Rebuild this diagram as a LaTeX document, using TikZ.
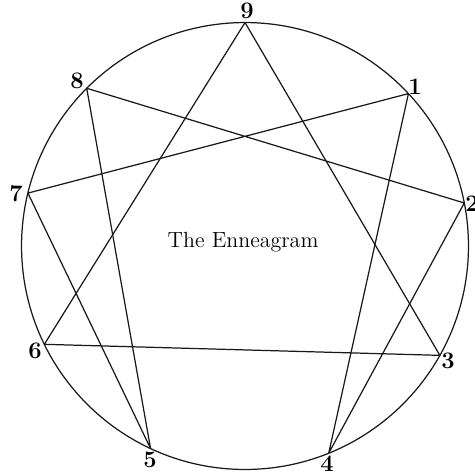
\documentclass[tikz,border=0pt]{standalone}
\usetikzlibrary{calc}
\begin{document}
\begin{tikzpicture}[x=0.02cm,y=-0.02cm,
  ln/.style={draw=black!90, line width=0.7pt, line join=round},
  lbl/.style={inner sep=0pt, font=\bfseries\fontsize{13.5}{15}\selectfont},
  title/.style={inner sep=0pt, font=\fontsize{12.5}{14}\selectfont}]
\useasboundingbox (0,0) rectangle (475,474);
\coordinate (c) at (245,246);
\draw[ln] (c) circle[radius=4.47cm];
\foreach \n/\a in {9/90, 1/43, 2/11.1, 3/-29.3, 4/-68, 5/-115, 6/206.1, 7/166.3, 8/135.1}{
  \coordinate (p\n) at ($(c)+(\a:4.47cm)$);
}
% triangle
\draw[ln] (p9) -- (p3) -- (p6) -- cycle;
% hexad
\draw[ln] (p1) -- (p4) -- (p2) -- (p8) -- (p5) -- (p7) -- cycle;
% labels
\node[lbl] (l9) at (247,11) {9};
\node[lbl] (l1) at (415,87) {1};
\node[lbl] (l2) at (472,204) {2};
\node[lbl] (l3) at (448,361) {3};
\node[lbl] (l4) at (327,464) {4};
\node[lbl] (l5) at (150,460) {5};
\node[lbl] (l6) at (35,351) {6};
\node[lbl] (l7) at (16,194) {7};
\node[lbl] (l8) at (77,81) {8};
\node[title] (t) at (243,242) {The Enneagram};
\end{tikzpicture}
\end{document}
